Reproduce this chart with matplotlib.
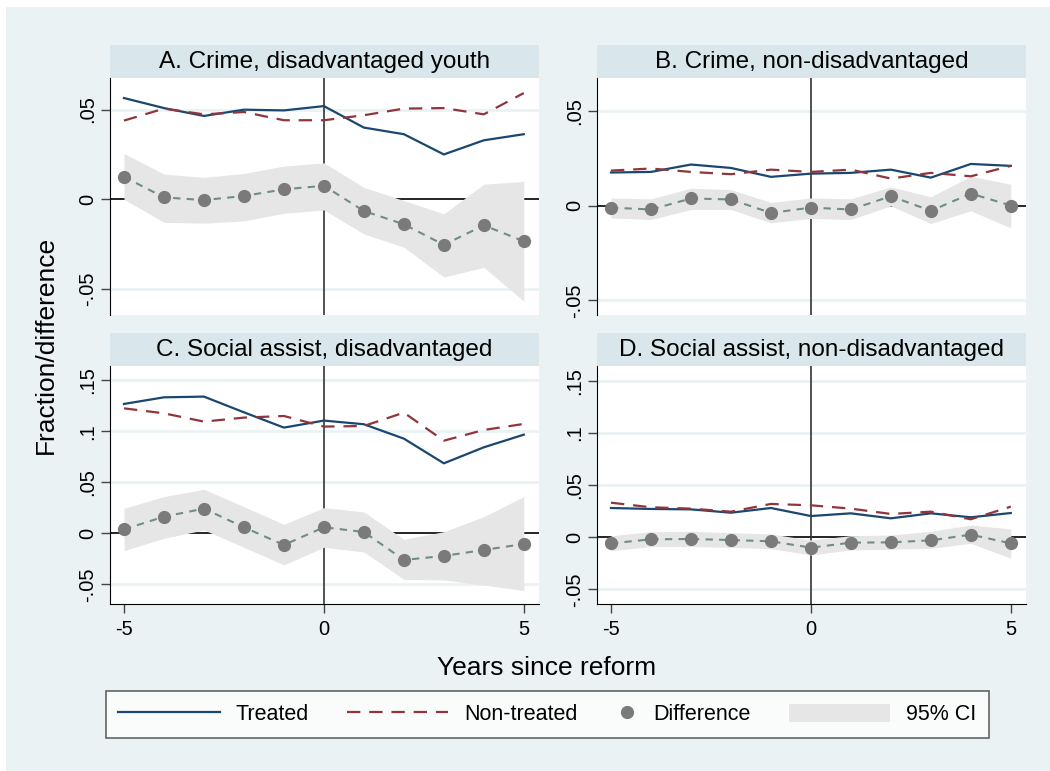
import matplotlib.pyplot as plt
from matplotlib.lines import Line2D
from matplotlib.patches import Patch, Rectangle
from matplotlib.legend_handler import HandlerLine2D

plt.rcParams['font.family'] = ['Liberation Sans', 'DejaVu Sans']

years = [-5, -4, -3, -2, -1, 0, 1, 2, 3, 4, 5]

titles = ['A. Crime, disadvantaged youth', 'B. Crime, non-disadvantaged',
          'C. Social assist, disadvantaged', 'D. Social assist, non-disadvantaged']

# panel A
treated_a = [0.0564, 0.0508, 0.0464, 0.0499, 0.0495, 0.0519, 0.0399, 0.0362, 0.0249, 0.0328, 0.0362]
nontreated_a = [0.0438, 0.0505, 0.0473, 0.0486, 0.0440, 0.0440, 0.0468, 0.0505, 0.0508, 0.0473, 0.0592]
diff_a = [0.0124, 0.0009, -0.0006, 0.0017, 0.0054, 0.0074, -0.0067, -0.0141, -0.0256, -0.0147, -0.0236]
ci_hi_a = [0.0254, 0.0139, 0.0121, 0.0143, 0.0184, 0.0202, 0.0065, -0.0009, -0.0083, 0.0083, 0.0098]
ci_lo_a = [-0.0002, -0.0130, -0.0135, -0.0122, -0.0080, -0.0061, -0.0195, -0.0269, -0.0436, -0.0382, -0.0571]

# panel B
treated_b = [0.0174, 0.0177, 0.0216, 0.0198, 0.0151, 0.0168, 0.0172, 0.0189, 0.0147, 0.0219, 0.0209]
nontreated_b = [0.0184, 0.0195, 0.0177, 0.0165, 0.0189, 0.0177, 0.0189, 0.0142, 0.0172, 0.0154, 0.0209]
diff_b = [-0.0011, -0.0021, 0.0037, 0.0032, -0.0039, -0.0011, -0.0021, 0.0049, -0.0028, 0.0063, 0.0000]
ci_hi_b = [0.0039, 0.0035, 0.0091, 0.0084, 0.0016, 0.0040, 0.0035, 0.0098, 0.0046, 0.0154, 0.0112]
ci_lo_b = [-0.0065, -0.0074, -0.0021, -0.0021, -0.0091, -0.0068, -0.0074, -0.0002, -0.0095, -0.0028, -0.0118]

# panel C
treated_c = [0.1268, 0.1333, 0.1340, 0.1186, 0.1036, 0.1105, 0.1069, 0.0928, 0.0686, 0.0843, 0.0967]
nontreated_c = [0.1225, 0.1176, 0.1095, 0.1134, 0.1150, 0.1046, 0.1052, 0.1183, 0.0908, 0.1013, 0.1072]
diff_c = [0.0039, 0.0163, 0.0242, 0.0059, -0.0114, 0.0059, 0.0013, -0.0261, -0.0222, -0.0163, -0.0105]
ci_hi_c = [0.0245, 0.0360, 0.0431, 0.0261, 0.0088, 0.0252, 0.0209, -0.0059, 0.0016, 0.0163, 0.0360]
ci_lo_c = [-0.0170, -0.0049, 0.0033, -0.0137, -0.0310, -0.0137, -0.0183, -0.0451, -0.0458, -0.0507, -0.0562]

# panel D
treated_d = [0.0281, 0.0272, 0.0268, 0.0236, 0.0281, 0.0204, 0.0230, 0.0182, 0.0230, 0.0192, 0.0233]
nontreated_d = [0.0332, 0.0288, 0.0275, 0.0246, 0.0320, 0.0307, 0.0275, 0.0224, 0.0246, 0.0173, 0.0294]
diff_d = [-0.0058, -0.0019, -0.0016, -0.0026, -0.0038, -0.0099, -0.0051, -0.0048, -0.0029, 0.0026, -0.0058]
ci_hi_d = [0.0016, 0.0054, 0.0058, 0.0045, 0.0032, -0.0026, 0.0016, 0.0022, 0.0058, 0.0118, 0.0080]
ci_lo_d = [-0.0128, -0.0089, -0.0089, -0.0096, -0.0109, -0.0169, -0.0121, -0.0115, -0.0105, -0.0058, -0.0201]

ticks_top = [-0.05, 0, 0.05]
ticklabels_top = ['-.05', '0', '.05']
ticks_bot = [-0.05, 0, 0.05, 0.1, 0.15]
ticklabels_bot = ['-.05', '0', '.05', '.1', '.15']

bg = '#EAF2F3'
strip = '#D9E6EB'
navy = '#1A476F'
maroon = '#90353B'
teal = '#6E8E84'
dotgrey = '#7A7A7A'
cigrey = '#E6E6E6'

W, H = 1050, 771
fig = plt.figure(figsize=(10.5, 7.71), dpi=100, facecolor='white')
fig.patches.append(Rectangle((6 / W, 0), 1 - 6 / W, 1 - 7 / H, transform=fig.transFigure,
                             facecolor=bg, edgecolor='none', zorder=-10))

def px_axes(x0, y0, x1, y1):
    return fig.add_axes([x0 / W, 1 - y1 / H, (x1 - x0) / W, (y1 - y0) / H])

panels = [
    (treated_a, nontreated_a, diff_a, ci_hi_a, ci_lo_a, (110, 78, 539, 315), (-0.0648, 0.0676), False),
    (treated_b, nontreated_b, diff_b, ci_hi_b, ci_lo_b, (597, 78, 1026, 315), (-0.0577, 0.0672), False),
    (treated_c, nontreated_c, diff_c, ci_hi_c, ci_lo_c, (110, 366, 539, 604), (-0.0693, 0.164), True),
    (treated_d, nontreated_d, diff_d, ci_hi_d, ci_lo_d, (597, 366, 1026, 604), (-0.0639, 0.1642), True),
]

for i, (tr, nt, df, hi, lo, box, ylim, bottom) in enumerate(panels):
    x0, y0, x1, y1 = box
    # title strip
    sax = px_axes(x0, y0 - 33, x1, y0)
    sax.set_facecolor(strip)
    sax.set_xticks([])
    sax.set_yticks([])
    for s in sax.spines.values():
        s.set_visible(False)
    sax.text(0.5, 0.47, titles[i], ha='center', va='center', fontsize=17.5, transform=sax.transAxes)

    ax = px_axes(x0, y0, x1, y1)
    ax.set_facecolor('white')
    ax.set_xlim(-5.35, 5.38)
    ax.set_ylim(*ylim)
    ticks = ticks_bot if bottom else ticks_top
    labels = ticklabels_bot if bottom else ticklabels_top
    ax.set_yticks(ticks)
    ax.set_yticklabels(labels, rotation=90, va='center', fontsize=14.5)
    for t in ticks:
        if t != 0:
            ax.axhline(t, color=bg, lw=2, zorder=0)
    ax.axhline(0, color='black', lw=1.2, zorder=1)
    ax.axvline(0, color='#333333', lw=1.2, zorder=1)
    ax.fill_between(years, lo, hi, color=cigrey, lw=0, zorder=2)
    ax.plot(years, tr, color=navy, lw=1.6, zorder=3)
    ax.plot(years, nt, color=maroon, lw=1.6, dashes=(6, 4), zorder=3)
    ax.plot(years, df, color=teal, lw=1.5, dashes=(3.5, 3), zorder=4)
    ax.plot(years, df, 'o', color=dotgrey, ms=8.5, zorder=5)

    ax.spines['top'].set_visible(False)
    ax.spines['right'].set_visible(False)
    ax.spines['left'].set_color('black')
    ax.tick_params(axis='y', length=6.5, width=1, color='#444444', pad=3)
    if bottom:
        ax.set_xticks([-5, 0, 5])
        ax.set_xticklabels(['-5', '0', '5'], fontsize=14.5)
        ax.tick_params(axis='x', length=6.5, width=1, color='#444444', pad=5)
        ax.spines['bottom'].set_color('black')
    else:
        ax.set_xticks([])
        ax.spines['bottom'].set_visible(False)

fig.text(53 / W, 1 - 345 / H, 'Fraction/difference', rotation=90, rotation_mode='anchor',
         ha='center', va='baseline', fontsize=19)
fig.text(547 / W, 1 - 675 / H, 'Years since reform', ha='center', va='baseline', fontsize=19)


class ShortHandle(HandlerLine2D):
    # marker-only key sits in a narrow slot, like the Stata legend
    def legend_artist(self, legend, orig_handle, fontsize, handlebox):
        handlebox.width = 16
        return super().legend_artist(legend, orig_handle, fontsize, handlebox)


handles = [
    Line2D([], [], color=navy, lw=1.6),
    Line2D([], [], color=maroon, lw=1.6, dashes=(6, 4)),
    Line2D([], [], color=dotgrey, marker='o', ms=8.5, lw=0),
    Patch(facecolor=cigrey, edgecolor='none'),
]
leg = fig.legend(handles, ['Treated', 'Non-treated', 'Difference', '95% CI'],
                 loc='center', bbox_to_anchor=(547.5 / W, 1 - 714.5 / H),
                 ncol=4, fontsize=15.5, frameon=True, fancybox=False,
                 handlelength=4.7, handleheight=0.9, handletextpad=0.74, columnspacing=1.77,
                 borderaxespad=0, borderpad=0.6, handler_map={handles[2]: ShortHandle()})
leg.get_frame().set_edgecolor('#404040')
leg.get_frame().set_linewidth(1.2)
leg.get_frame().set_facecolor('white')

fig.savefig('out.png', dpi=100, facecolor=fig.get_facecolor())
